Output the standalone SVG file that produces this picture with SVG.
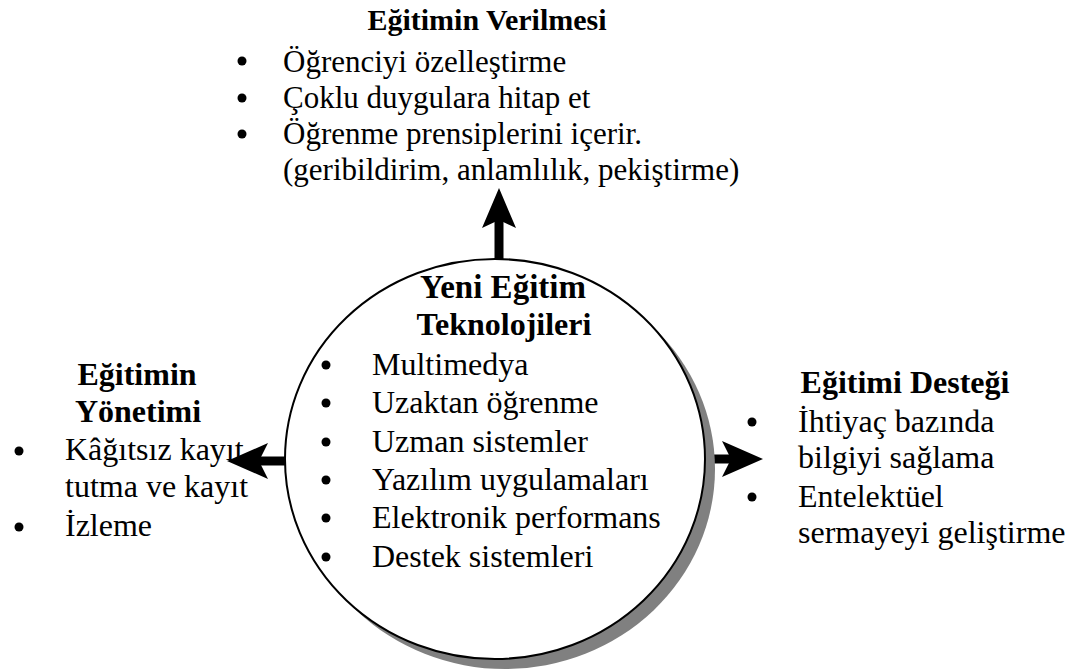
<svg xmlns="http://www.w3.org/2000/svg" width="1079" height="672" viewBox="0 0 1079 672">
<style>
text{font-family:"Liberation Serif","Times New Roman",serif;font-size:32px;fill:#000}
.b{font-weight:bold;text-anchor:middle}
.t{font-size:31px}
.tb{font-size:30px}
.c{font-size:33px}
.dot{fill:#000}
.arr{fill:#000;stroke:none}
.shaft{stroke:#000;stroke-width:9;fill:none}
</style>
<rect width="1079" height="672" fill="#fff"/>
<g id="connectors">
<line class="shaft" x1="499" y1="262" x2="499" y2="218"/>
<path class="arr" d="M499,188 L516,228 L499,220 L482,228 Z"/>
<line class="shaft" x1="287" y1="461" x2="258" y2="461"/>
<path class="arr" d="M227,461 L268,443 L259,461 L268,479 Z"/>
<line class="shaft" x1="703" y1="459" x2="732" y2="459"/>
<path class="arr" d="M763,459 L722,441 L731,459 L722,477 Z"/>
</g>
<g id="center">
<ellipse cx="505" cy="469" rx="210" ry="200" fill="#808080"/>
<ellipse cx="495" cy="459" rx="210" ry="200" fill="#fff" stroke="#000" stroke-width="2"/>
<text class="b c" x="503" y="298">Yeni Eğitim</text>
<text class="b" x="504" y="335">Teknolojileri</text>
<circle class="dot" cx="326" cy="365" r="4.5"/><text x="372" y="375">Multimedya</text>
<circle class="dot" cx="326" cy="403" r="4.5"/><text x="372" y="413">Uzaktan öğrenme</text>
<circle class="dot" cx="326" cy="442" r="4.5"/><text x="372" y="452">Uzman sistemler</text>
<circle class="dot" cx="326" cy="480" r="4.5"/><text x="372" y="490">Yazılım uygulamaları</text>
<circle class="dot" cx="326" cy="518" r="4.5"/><text x="372" y="528">Elektronik performans</text>
<circle class="dot" cx="326" cy="557" r="4.5"/><text x="372" y="567">Destek sistemleri</text>
</g>
<g id="top">
<text class="b tb" x="487" y="30">Eğitimin Verilmesi</text>
<circle class="dot" cx="242" cy="61" r="4.5"/><text class="t" x="283" y="72">Öğrenciyi özelleştirme</text>
<circle class="dot" cx="242" cy="98" r="4.5"/><text class="t" x="283" y="108">Çoklu duygulara hitap et</text>
<circle class="dot" cx="242" cy="134" r="4.5"/><text class="t" x="283" y="144">Öğrenme prensiplerini içerir.</text>
<text class="t" x="283" y="180">(geribildirim, anlamlılık, pekiştirme)</text>
</g>
<g id="left">
<text class="b" x="137" y="385">Eğitimin</text>
<text class="b" x="138" y="422">Yönetimi</text>
<circle class="dot" cx="19" cy="451" r="4.5"/><text x="65" y="460">Kâğıtsız kayıt</text>
<text x="65" y="497">tutma ve kayıt</text>
<circle class="dot" cx="19" cy="527" r="4.5"/><text x="65" y="536">İzleme</text>
</g>
<g id="right">
<text class="b" x="905" y="393">Eğitimi Desteği</text>
<circle class="dot" cx="752" cy="422" r="4.5"/><text x="798" y="432">İhtiyaç bazında</text>
<text x="798" y="468">bilgiyi sağlama</text>
<circle class="dot" cx="752" cy="497" r="4.5"/><text x="798" y="507">Entelektüel</text>
<text x="798" y="543">sermayeyi geliştirme</text>
</g>
</svg>
